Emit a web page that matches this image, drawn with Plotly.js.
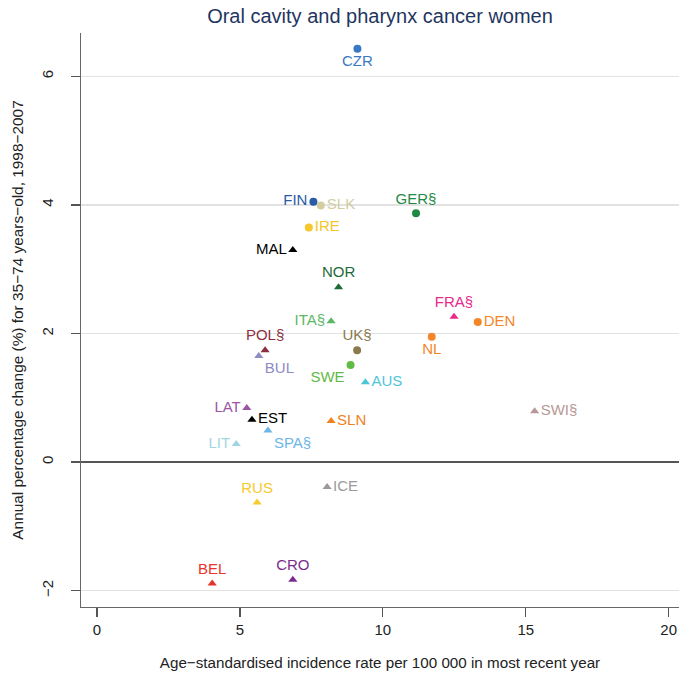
<!DOCTYPE html>
<html>
<head>
<meta charset="utf-8">
<script src="https://cdn.plot.ly/plotly-3.0.1.min.js"></script>
<style>
  html, body { margin: 0; padding: 0; background: #fff; }
  #chart { width: 679px; height: 678px; }
</style>
</head>
<body>
<div id="chart"></div>
<script>
// Country codes
const countries = ["CZR", "FIN", "SLK", "GER§", "IRE", "MAL", "NOR", "ITA§", "POL§", "BUL",
                   "UK§", "SWE", "AUS", "FRA§", "DEN", "NL", "SWI§", "LAT", "EST", "SLN",
                   "SPA§", "LIT", "RUS", "ICE", "BEL", "CRO"];
// Age-standardised incidence rate per 100 000 (most recent year)
const incidence = [9.11, 7.57, 7.83, 11.16, 7.41, 6.85, 8.45, 8.19, 5.88, 5.66,
                   9.10, 8.87, 9.39, 12.49, 13.32, 11.71, 15.31, 5.24, 5.42, 8.19,
                   5.98, 4.87, 5.60, 8.05, 4.03, 6.85];
// Annual percentage change (%) 1998-2007, women aged 35-74
const apc = [6.43, 4.05, 3.99, 3.87, 3.65, 3.30, 2.72, 2.19, 1.74, 1.65,
             1.74, 1.51, 1.24, 2.26, 2.18, 1.95, 0.79, 0.84, 0.66, 0.64,
             0.49, 0.28, -0.63, -0.39, -1.89, -1.83];

// Per-country styling: marker shape, colour and label placement
const style = {
  "CZR":  {sym: "circle",      col: "#3a78c4", pos: "bottom center"},
  "FIN":  {sym: "circle",      col: "#2a5aa8", pos: "middle left"},
  "SLK":  {sym: "circle",      col: "#d3cd9f", pos: "middle right"},
  "GER§": {sym: "circle",      col: "#1e8a44", pos: "top center"},
  "IRE":  {sym: "circle",      col: "#f6c62a", pos: "middle right"},
  "MAL":  {sym: "triangle-up", col: "#000000", pos: "middle left"},
  "NOR":  {sym: "triangle-up", col: "#1d6a3a", pos: "top center"},
  "ITA§": {sym: "triangle-up", col: "#5cb865", pos: "middle left"},
  "POL§": {sym: "triangle-up", col: "#8c2f3e", pos: "top center"},
  "BUL":  {sym: "triangle-up", col: "#8e8ac6", pos: "bottom right"},
  "UK§":  {sym: "circle",      col: "#8a7a4e", pos: "top center"},
  "SWE":  {sym: "circle",      col: "#62ba46", pos: "bottom left"},
  "AUS":  {sym: "triangle-up", col: "#4fc6d8", pos: "middle right"},
  "FRA§": {sym: "triangle-up", col: "#e82a8a", pos: "top center"},
  "DEN":  {sym: "circle",      col: "#f4862a", pos: "middle right"},
  "NL":   {sym: "circle",      col: "#f4862a", pos: "bottom center"},
  "SWI§": {sym: "triangle-up", col: "#b89896", pos: "middle right"},
  "LAT":  {sym: "triangle-up", col: "#9b55a3", pos: "middle left"},
  "EST":  {sym: "triangle-up", col: "#000000", pos: "middle right"},
  "SLN":  {sym: "triangle-up", col: "#ef8220", pos: "middle right"},
  "SPA§": {sym: "triangle-up", col: "#6db6ea", pos: "bottom right"},
  "LIT":  {sym: "triangle-up", col: "#9fd6e2", pos: "middle left"},
  "RUS":  {sym: "triangle-up", col: "#f7ca2e", pos: "top center"},
  "ICE":  {sym: "triangle-up", col: "#9a9a9a", pos: "middle right"},
  "BEL":  {sym: "triangle-up", col: "#e8322c", pos: "top center"},
  "CRO":  {sym: "triangle-up", col: "#7a2c8c", pos: "top center"}
};

const FONT = "Liberation Sans, Arial, Helvetica, sans-serif";

const trace = {
  type: "scatter",
  mode: "markers+text",
  x: incidence,
  y: apc,
  text: countries,
  textposition: countries.map(c => style[c].pos),
  textfont: {family: FONT, size: 15, color: countries.map(c => style[c].col)},
  marker: {
    size: 8,
    symbol: countries.map(c => style[c].sym),
    color: countries.map(c => style[c].col),
    line: {width: 0}
  },
  hoverinfo: "x+y+text",
  cliponaxis: false
};

const layout = {
  width: 679,
  height: 678,
  margin: {l: 81, r: 0, t: 33, b: 71},
  paper_bgcolor: "#ffffff",
  plot_bgcolor: "#ffffff",
  showlegend: false,
  font: {family: FONT, size: 14, color: "#222"},
  title: {
    text: "Oral cavity and pharynx cancer women",
    font: {family: FONT, size: 20, color: "#1f3561"},
    x: 0.5, xref: "paper", xanchor: "center",
    y: 1, yref: "container", yanchor: "top", pad: {t: 9}
  },
  xaxis: {
    range: [-0.56, 20.36],
    tickvals: [0, 5, 10, 15, 20],
    ticks: "outside", ticklen: 9, tickwidth: 1.2, tickcolor: "#555",
    showline: true, linecolor: "#666", linewidth: 1.3,
    showgrid: false, zeroline: false,
    tickfont: {family: FONT, size: 15, color: "#222"},
    title: {
      text: "Age\u2212standardised incidence rate per 100 000 in most recent year",
      font: {family: FONT, size: 15.2, color: "#222"},
      standoff: 20
    },
    automargin: false
  },
  yaxis: {
    range: [-2.255, 6.675],
    tickvals: [-2, 0, 2, 4, 6],
    ticktext: ["\u22122", "0", "2", "4", "6"],
    tickangle: -90,
    ticks: "outside", ticklen: 9, tickwidth: 1.2, tickcolor: "#555",
    showline: true, linecolor: "#666", linewidth: 1.3,
    showgrid: true, gridcolor: "#e2e2e2", gridwidth: 1.6,
    zeroline: true, zerolinecolor: "#555", zerolinewidth: 1.4,
    tickfont: {family: FONT, size: 15, color: "#222"},
    ticklabelstandoff: 12,
    title: {
      text: "Annual percentage change (%) for 35\u221274 years\u2212old, 1998\u22122007",
      font: {family: FONT, size: 15.4, color: "#222"},
      standoff: 11
    },
    automargin: false
  }
};

Plotly.newPlot("chart", [trace], layout, {displayModeBar: false, staticPlot: true});
</script>
</body>
</html>
